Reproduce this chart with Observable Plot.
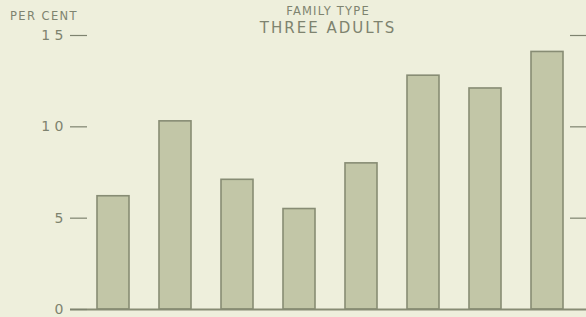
<!DOCTYPE html>
<html>
<head>
<meta charset="utf-8">
<script src="https://cdn.jsdelivr.net/npm/d3@7"></script>
<script src="https://cdn.jsdelivr.net/npm/@observablehq/plot@0.6"></script>
<style>
  html, body { margin: 0; padding: 0; background: #eeefdc; }
  #wrap { position: relative; width: 586px; height: 317px; overflow: hidden; background: #eeefdc;
          font-family: "DejaVu Sans", sans-serif; color: #7e836f; }
  .lbl { position: absolute; white-space: nowrap; line-height: 1; }
  #chart { position: absolute; left: 0; top: 0; }
</style>
</head>
<body>
<div id="wrap">
  <div id="chart"></div>
  <div class="lbl" style="left:10px; top:11px; font-size:11.5px; letter-spacing:1.4px;">PER CENT</div>
  <div class="lbl" style="left:0; width:656px; text-align:center; top:6px; font-size:11.5px; letter-spacing:1.2px;">FAMILY TYPE</div>
  <div class="lbl" style="left:0; width:656px; text-align:center; top:21px; font-size:15px; letter-spacing:2px;">THREE ADULTS</div>
</div>
<script>
const categories = ["1", "2", "3", "4", "5", "6", "7", "8"];
const values = [6.2, 10.3, 7.1, 5.5, 8.0, 12.8, 12.1, 14.1];
const yTicks = [0, 5, 10, 15];
const rightTicks = [5, 10, 15];

const data = categories.map((c, i) => ({category: c, value: values[i]}));

const ink = "#7e836f";
const chart = Plot.plot({
  width: 586,
  height: 317,
  marginLeft: 70,
  marginRight: 0,
  marginTop: 35,
  marginBottom: 8,
  style: {background: "transparent", color: ink, fontFamily: "DejaVu Sans, sans-serif", fontSize: "12px"},
  x: {domain: categories, range: [66, 594], paddingInner: 0.484, paddingOuter: 0.5, axis: null},
  y: {domain: [0, 15], axis: null},
  marks: [
    Plot.barY(data, {x: "category", y: "value", fill: "#c2c6a7", stroke: "#878c74", strokeWidth: 1.6}),
    Plot.ruleY([0], {stroke: "#878c74", strokeWidth: 2}),
    Plot.axisY({ticks: yTicks, tickSize: 17, dx: 17, tickPadding: 7, strokeWidth: 1.2, label: null,
                tickFormat: d => String(d).split("").join(" "), fontSize: 14}),
    Plot.axisY({anchor: "right", ticks: rightTicks, tickSize: 17, dx: -17, strokeWidth: 1.2, label: null, tickFormat: () => ""})
  ]
});
document.getElementById("chart").appendChild(chart);
</script>
</body>
</html>
